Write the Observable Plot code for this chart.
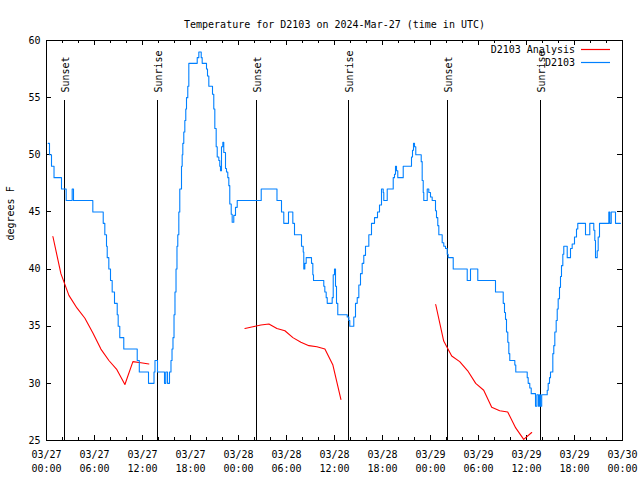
<!DOCTYPE html>
<html>
<head>
<meta charset="utf-8">
<script src="https://cdn.jsdelivr.net/npm/d3@7"></script>
<script src="https://cdn.jsdelivr.net/npm/@observablehq/plot@0.6"></script>
<style>
  html, body { margin: 0; padding: 0; background: #fff; }
  #chart svg { display: block; }
</style>
</head>
<body>
<div id="chart"></div>
<script>
// ---------------- data ----------------
const titleText = "Temperature for D2103 on 2024-Mar-27 (time in UTC)";
const yLabelText = "degrees F";
const startTime = "2024-03-27T00:00:00Z";
const spanHours = 72;

// observed station series D2103: [hours since start, degrees F]
const obsReadings = [
  [0.21,51],[0.375,50],[0.625,49],[0.94,48],[1.875,47],[2.46,46],[3.21,47],[3.375,46],[5.79,45],
  [7.09,44],[7.29,43],[7.5,42],[7.59,41],[7.79,40],[8.0,39],[8.21,38],[8.5,37],[8.84,36],[8.96,35],
  [9.16,34],[9.66,33],[11.34,32],[11.6,31],[12.75,30],[13.44,31],[13.56,32],[13.875,31],[14.75,30],
  [14.91,31],[15.125,30],[15.375,31],[15.56,32],[15.69,33],[15.81,34],[15.94,36],[16.06,38],[16.19,40],
  [16.31,42],[16.41,43],[16.54,45],[16.66,47],[16.875,49],[16.96,50],[17.04,51],[17.16,52],[17.29,53],
  [17.41,54],[17.5,55],[17.66,56],[17.79,58],[18.84,58.5],[19.04,59],[19.34,58.5],[19.46,58],[20.0,57.5],
  [20.125,56.9],[20.29,56],[20.75,55.3],[20.91,54],[21.04,52.3],[21.21,50.7],[21.34,49.8],[21.54,49.5],
  [21.66,49],[21.75,48.6],[21.875,50.7],[22.04,51.1],[22.16,50.2],[22.375,48.8],[22.5,48.5],[22.66,48],
  [22.79,47.3],[22.91,45.7],[23.09,44.8],[23.21,44.1],[23.41,44.7],[23.625,45.4],[23.84,46],[26.84,47],
  [28.81,46],[29.375,45],[29.66,44],[30.25,45],[30.79,44],[31.0,43],[31.875,42],[32.09,41.5],[32.16,40],
  [32.29,40.5],[32.46,41],[33.125,40.5],[33.29,39.5],[33.375,39],[34.66,38.5],[34.79,38],[34.96,37.5],
  [35.09,37],[35.71,37.5],[35.84,39.5],[36.0,40],[36.125,38.5],[36.25,37],[36.41,36],[37.59,35.8],
  [37.79,35.5],[37.91,35],[38.41,35.8],[38.625,37],[38.84,37.5],[39.04,38.6],[39.25,39.6],[39.46,40.5],
  [39.66,41.2],[39.875,42],[40.29,43],[40.625,44],[41.0,44.5],[41.375,45],[41.625,45.6],[41.875,47],
  [42.09,46.7],[42.16,46],[42.59,47],[43.34,48],[43.5,48.3],[43.625,49],[43.75,48.6],[43.91,48],
  [44.59,49],[45.625,49.8],[45.75,50.4],[45.875,51],[46.0,50.7],[46.16,50],[46.84,49.4],[46.96,47.75],
  [47.09,46.7],[47.16,46],[47.59,47],[47.79,46.7],[48.0,46.3],[48.21,46],[48.625,45.1],[48.75,44.5],
  [48.91,43.8],[49.04,43],[49.46,42.3],[49.66,42],[49.875,41.8],[50.09,41.3],[50.21,41],[50.84,40],
  [52.59,39],[53.0,40],[53.91,39],[56.125,38],[57.09,37],[57.25,36.2],[57.375,35.6],[57.5,34.5],
  [57.66,33.6],[57.79,32.6],[57.91,32],[58.54,31.6],[58.66,31],[60.09,30.5],[60.21,30],[60.41,29.6],
  [60.59,29.1],[61.125,28],[61.3,29],[61.5,28],[61.62,29],[61.75,28],[61.9,29],[62.59,29.4],
  [62.71,30],[62.875,30.5],[63.0,31],[63.29,32.6],[63.41,33.3],[63.54,34.5],[63.71,35.5],[63.84,36.5],
  [63.96,37.4],[64.125,38.4],[64.25,39.35],[64.375,40.3],[64.54,41.3],[64.66,42],[65.09,41],[65.5,41.8],
  [65.71,42.2],[66.0,42.8],[66.25,43.5],[66.41,44],[67.375,43],[67.91,44],[68.41,43.4],[68.54,42.5],
  [68.625,41],[68.84,41.6],[68.96,42.8],[69.125,44],[70.29,45],[70.41,44],[70.59,45],[71.125,44],[71.75,44]
];

// analysis series D2103 Analysis: three hourly segments
const anaSegmentStarts = [0.8, 24.8, 48.65];
const anaSegment1 = [42.85,39.6,37.7,36.6,35.7,34.4,33.0,32.0,31.2,29.9,31.9,31.8,31.7];
const anaSegment2 = [34.8,34.95,35.1,35.2,34.8,34.6,34.0,33.6,33.3,33.2,33.0,31.6,28.6];
const anaSegment3 = [36.9,33.7,32.4,31.9,31.1,30.0,29.4,27.9,27.6,27.5,26.1,25.1,25.7];

// sunrise / sunset events (hours since start)
const sunHours  = [2.29, 13.91, 26.29, 37.79, 50.16, 61.79];
const sunLabels = ["Sunset", "Sunrise", "Sunset", "Sunrise", "Sunset", "Sunrise"];

// axes
const yDomain = [25, 60];
const yTicks = [25, 30, 35, 40, 45, 50, 55, 60];
const xMajorHours = [0, 6, 12, 18, 24, 30, 36, 42, 48, 54, 60, 66, 72];
const xTickDates = ["03/27","03/27","03/27","03/27","03/28","03/28","03/28","03/28","03/29","03/29","03/29","03/29","03/30"];
const xTickTimes = ["00:00","06:00","12:00","18:00","00:00","06:00","12:00","18:00","00:00","06:00","12:00","18:00","00:00"];
const xMinorHours = d3.range(0, 73, 2);

const legendNames  = ["D2103 Analysis", "D2103"];
const legendColors = ["#ff0000", "#0080ff"];

// ---------------- build ----------------
const t0 = Date.parse(startTime);
const toDate = h => new Date(t0 + h * 3600e3);

const obs = obsReadings.map(([h, v]) => ({time: toDate(h), value: v}));
const ana = [];
[anaSegment1, anaSegment2, anaSegment3].forEach((seg, s) => {
  seg.forEach((v, i) => ana.push({time: toDate(anaSegmentStarts[s] + i), value: v, seg: s}));
});
const sunEvents = sunHours.map((h, i) => ({time: toDate(h), label: sunLabels[i]}));
const majorDates = xMajorHours.map(toDate);
const minorDates = xMinorHours.map(toDate);
const dateLabel = new Map(majorDates.map((d, i) => [+d, xTickDates[i]]));
const timeLabel = new Map(majorDates.map((d, i) => [+d, xTickTimes[i]]));

const W = 640, H = 480, mL = 46, mR = 18, mT = 40, mB = 40;
const frameW = W - mL - mR, frameH = H - mT - mB;
const majorLen = 5, minorLen = 3;
const yAt = f => yDomain[0] + f * (yDomain[1] - yDomain[0]);
const font = "'DejaVu Sans Mono', 'Liberation Mono', monospace";

const svg = Plot.plot({
  width: W, height: H,
  marginLeft: mL, marginRight: mR, marginTop: mT, marginBottom: mB,
  style: {fontFamily: font, fontSize: "10px", background: "#fff", color: "#000", overflow: "visible"},
  x: {type: "utc", domain: [toDate(0), toDate(spanHours)]},
  y: {domain: yDomain},
  marks: [
    // tick labels
    Plot.axisY(yTicks, {anchor: "left", tickSize: 0, tickPadding: 6, tickFormat: d => String(d), label: null, fill: "#000"}),
    Plot.axisX(majorDates, {anchor: "bottom", tickSize: 0, tickPadding: 10, tickFormat: d => dateLabel.get(+d), label: null, fill: "#000"}),
    Plot.axisX(majorDates, {anchor: "bottom", tickSize: 0, tickPadding: 24, tickFormat: d => timeLabel.get(+d), label: null, fill: "#000"}),
    // inward ticks on all four sides
    Plot.ruleX(majorDates, {x: d => d, insetTop: frameH - majorLen, stroke: "#000", shapeRendering: "crispEdges"}),
    Plot.ruleX(majorDates, {x: d => d, insetBottom: frameH - majorLen, stroke: "#000", shapeRendering: "crispEdges"}),
    Plot.ruleX(minorDates, {x: d => d, insetTop: frameH - minorLen, stroke: "#000", shapeRendering: "crispEdges"}),
    Plot.ruleX(minorDates, {x: d => d, insetBottom: frameH - minorLen, stroke: "#000", shapeRendering: "crispEdges"}),
    Plot.ruleY(yTicks, {y: d => d, insetRight: frameW - majorLen, stroke: "#000", shapeRendering: "crispEdges"}),
    Plot.ruleY(yTicks, {y: d => d, insetLeft: frameW - majorLen, stroke: "#000", shapeRendering: "crispEdges"}),
    // sunrise / sunset markers
    Plot.ruleX(sunEvents, {x: "time", y1: yDomain[0], y2: yAt(0.85), stroke: "#000", strokeWidth: 1, shapeRendering: "crispEdges"}),
    Plot.text(sunEvents, {x: "time", y: yAt(0.87), text: "label", rotate: -90, textAnchor: "start", dx: 1, fill: "#000"}),
    // series
    Plot.line(ana, {x: "time", y: "value", z: "seg", stroke: legendColors[0], strokeWidth: 1.1}),
    Plot.line(obs, {x: "time", y: "value", stroke: legendColors[1], strokeWidth: 1.1, curve: "step-after"}),
    Plot.frame({stroke: "#000", shapeRendering: "crispEdges"}),
    // title and y label
    Plot.text([titleText], {frameAnchor: "top", dy: -20, text: d => d, fill: "#000"}),
    Plot.text([yLabelText], {frameAnchor: "left", dx: -36, rotate: -90, text: d => d, fill: "#000"})
  ]
});

// legend (inside top-right of the frame)
const lg = d3.select(svg).append("g").attr("font-family", font).attr("font-size", 10);
legendNames.forEach((name, i) => {
  const y = mT + 9.5 + i * 13;
  const xr = W - mR;
  lg.append("text").attr("x", xr - 47).attr("y", y).attr("dy", "0.32em")
    .attr("text-anchor", "end").attr("fill", "#000").text(name);
  lg.append("line").attr("x1", xr - 41).attr("x2", xr - 12).attr("y1", y).attr("y2", y)
    .attr("stroke", legendColors[i]).attr("stroke-width", 1.2);
});

document.getElementById("chart").appendChild(svg);
</script>
</body>
</html>
